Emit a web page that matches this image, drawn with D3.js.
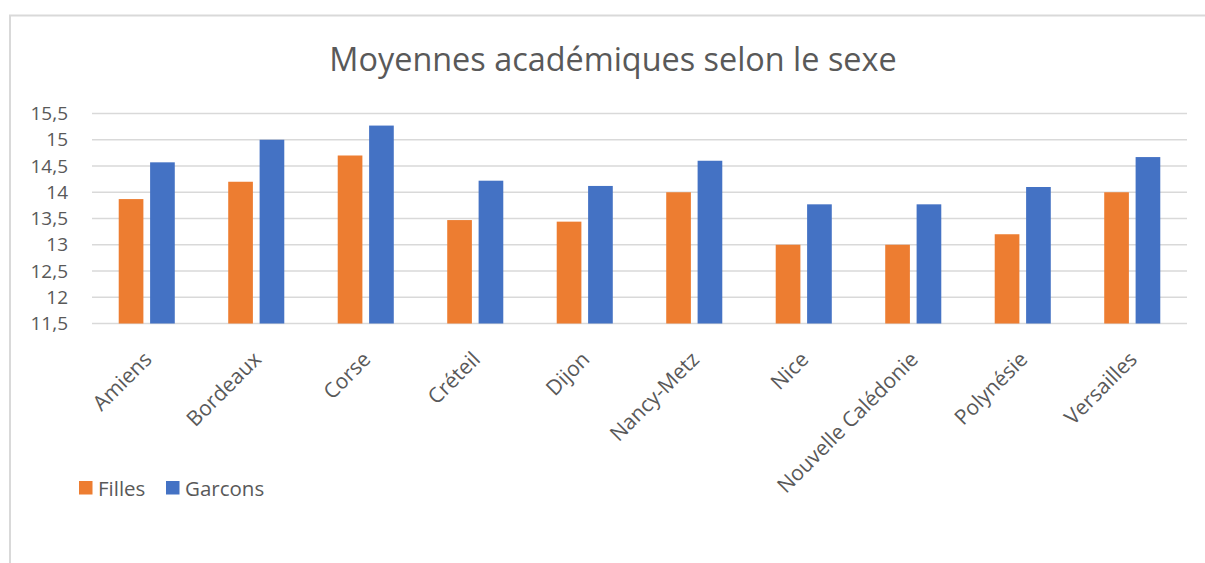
<!DOCTYPE html>
<html>
<head>
<meta charset="utf-8">
<script src="https://cdn.jsdelivr.net/npm/d3@7"></script>
<style>
  body { margin: 0; background: #fff; }
  svg { display: block; font-family: "Open Sans", sans-serif; }
</style>
</head>
<body>
<div id="chart"></div>
<script>
// chart data
const academies = ["Amiens", "Bordeaux", "Corse", "Créteil", "Dijon", "Nancy-Metz", "Nice", "Nouvelle Calédonie", "Polynésie", "Versailles"];
const filles = [13.87, 14.2, 14.7, 13.47, 13.44, 14.0, 13.0, 13.0, 13.2, 14.0];
const garcons = [14.57, 15.0, 15.27, 14.22, 14.12, 14.6, 13.77, 13.77, 14.1, 14.67];
const seriesNames = ["Filles", "Garcons"];
const yTicks = [11.5, 12, 12.5, 13, 13.5, 14, 14.5, 15, 15.5];

const colors = d3.scaleOrdinal().domain(seriesNames).range(["#ED7D31", "#4472C4"]);

const width = 1205, height = 563;
const margins = {top: 113.5, right: 18, bottom: 239.5, left: 92};

const rows = academies.map((a, i) => ({academie: a, Filles: filles[i], Garcons: garcons[i]}));

const svg = d3.select("#chart").append("svg")
  .attr("width", width)
  .attr("height", height);

// chart border (top and left visible)
svg.append("path")
  .attr("d", `M10,${height + 5}V15.5H${width + 5}`)
  .attr("fill", "none")
  .attr("stroke", "#D9D9D9")
  .attr("stroke-width", 2);

// title
svg.append("text")
  .attr("x", 613)
  .attr("y", 71)
  .attr("text-anchor", "middle")
  .attr("fill", "#595959")
  .style("font-size", "32.4px")
  .text("Moyennes académiques selon le sexe");

// scales
const x0 = d3.scaleBand()
  .domain(academies)
  .range([margins.left, width - margins.right])
  .padding(0);

const bw = x0.bandwidth();
const x1 = d3.scaleBand()
  .domain(seriesNames)
  .range([bw * 0.244, bw * 0.756])
  .paddingInner(0.214);

const y = d3.scaleLinear()
  .domain([11.5, 15.5])
  .range([height - margins.bottom, margins.top]);

// gridlines
svg.append("g")
  .selectAll("line")
  .data(yTicks)
  .join("line")
  .attr("x1", margins.left)
  .attr("x2", width - margins.right)
  .attr("y1", d => y(d))
  .attr("y2", d => y(d))
  .attr("stroke", "#D9D9D9")
  .attr("stroke-width", 1.5);

// y axis labels
const yAxis = svg.append("g")
  .attr("transform", `translate(68,0)`)
  .call(d3.axisLeft(y).tickValues(yTicks).tickSize(0).tickPadding(0)
    .tickFormat(d => String(d).replace(".", ",")));
yAxis.select(".domain").remove();
yAxis.selectAll("text")
  .attr("fill", "#595959")
  .style("font-family", "Open Sans, sans-serif")
  .style("font-size", "19px");

// bars
svg.append("g")
  .selectAll("g")
  .data(rows)
  .join("g")
  .attr("transform", d => `translate(${x0(d.academie)},0)`)
  .selectAll("rect")
  .data(d => seriesNames.map(k => ({key: k, value: d[k]})))
  .join("rect")
  .attr("x", d => x1(d.key))
  .attr("y", d => y(d.value))
  .attr("width", x1.bandwidth())
  .attr("height", d => y(11.5) - y(d.value))
  .attr("fill", d => colors(d.key));

// x axis labels
const xAxis = svg.append("g")
  .attr("transform", `translate(0,${height - margins.bottom})`)
  .call(d3.axisBottom(x0).tickSize(0).tickPadding(0));
xAxis.select(".domain").remove();
xAxis.selectAll("text")
  .attr("fill", "#595959")
  .style("font-family", "Open Sans, sans-serif")
  .style("font-size", "21px")
  .attr("text-anchor", "end")
  .attr("dy", "0.35em")
  .attr("transform", "translate(1,32) rotate(-45)");

// legend
const legend = svg.append("g")
  .attr("transform", "translate(79,481)");
const item = legend.selectAll("g")
  .data(seriesNames)
  .join("g")
  .attr("transform", (d, i) => `translate(${i * 87},0)`);
item.append("rect")
  .attr("width", 13.5)
  .attr("height", 13.5)
  .attr("fill", d => colors(d));
item.append("text")
  .attr("x", 19)
  .attr("y", 14.5)
  .attr("fill", "#595959")
  .style("font-size", "20.5px")
  .text(d => d);
</script>
</body>
</html>
